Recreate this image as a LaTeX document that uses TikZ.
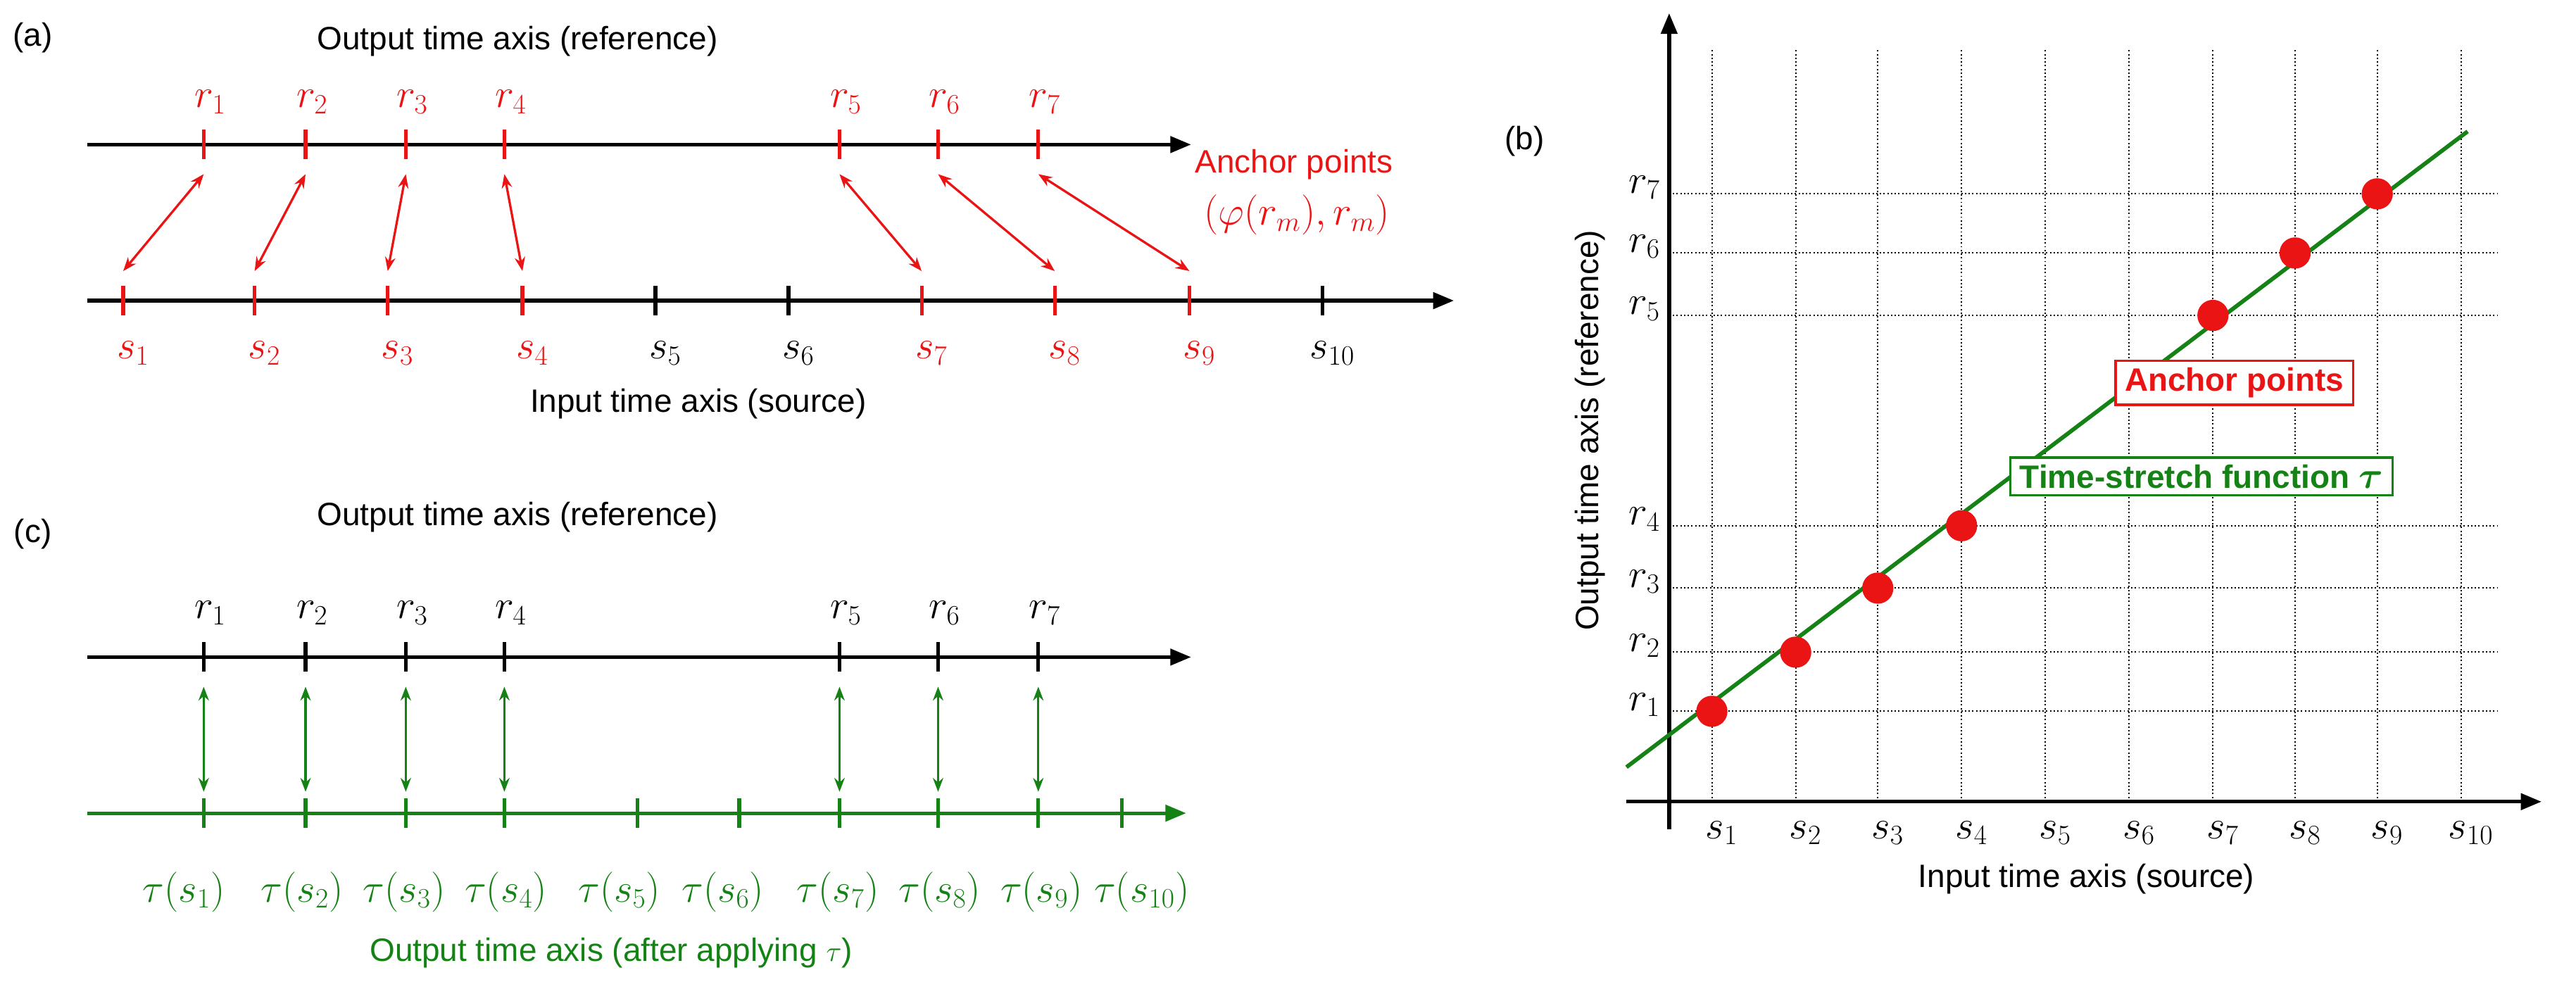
\documentclass[tikz,border=0pt]{standalone}
\usepackage{fontspec}
\setmainfont{Liberation Sans}
\usepackage{amsmath}
\usetikzlibrary{arrows.meta}
\definecolor{gr}{RGB}{20,130,20}
\definecolor{rd}{RGB}{235,20,20}
\newcommand\mym[1]{\scalebox{1.4}{$#1$}}
\begin{document}
\begin{tikzpicture}[x=0.05cm,y=-0.05cm,
 txt/.style={font=\fontsize{28}{32}\selectfont,inner sep=0},
 mth/.style={font=\fontsize{24}{28}\selectfont,inner sep=0},
 axis/.style={line width=3.2pt,-{Triangle[length=18pt,width=14pt]}},
 tk/.style={line width=3.2pt},
 dbl/.style={line width=2pt,{Stealth[length=12pt,width=9pt]}-{Stealth[length=12pt,width=9pt]}},
 grid/.style={dotted,line width=1.2pt}]
\useasboundingbox (0,0) rectangle (1568,605);
% ---------- (a)
\node[txt] (la) at (20,23) {(a)};
\node[txt] (ta) at (315,25) {Output time axis (reference)};
\coordinate (a0) at (53,88); \coordinate (a1) at (725,88);
\draw[axis] (a0) -- (a1);
\coordinate (b0) at (53,183); \coordinate (b1) at (885,183);
\draw[axis] (b0) -- (b1);
\foreach \x [count=\i] in {124,186,247,307,511,571,632}{
  \draw[tk,rd] (\x,79) -- (\x,97);
  \node[mth,text=rd] (r\i) at (\x+4,62) {\mym{r_{\i}}};
  \coordinate (ra\i) at (\x,106);}
\foreach \x/\c [count=\i] in {75/rd,155/rd,236/rd,318/rd,399/black,480/black,561/rd,642/rd,724/rd,805/black}{
  \draw[tk,\c] (\x,174) -- (\x,192);
  \node[mth,text=\c] (s\i) at (\x+6,215) {\mym{s_{\i}}};
  \coordinate (sa\i) at (\x,165);}
\foreach \a/\b in {1/1,2/2,3/3,4/4,5/7,6/8,7/9}
  \draw[dbl,rd] (ra\a) -- (sa\b);
\node[txt,text=rd,anchor=east] (ap) at (848,100) {Anchor points};
\node[mth,text=rd,anchor=east] (apf) at (846,131) {\mym{(\varphi(r_m),r_m)}};
\node[txt] (ia) at (425,246) {Input time axis (source)};
% ---------- (c)
\node[txt] (lc) at (20,325) {(c)};
\node[txt] (tc) at (315,315) {Output time axis (reference)};
\draw[axis] (53,400) -- (725,400);
\draw[axis,gr] (53,495) -- (722,495);
\foreach \x [count=\i] in {124,186,247,307,511,571,632}{
  \draw[tk] (\x,391) -- (\x,409);
  \node[mth] (rc\i) at (\x+4,373) {\mym{r_{\i}}};
  \coordinate (p\i) at (\x,418); \coordinate (q\i) at (\x,482);
  \draw[dbl,gr] (p\i) -- (q\i);}
\foreach \x/\lx [count=\i] in {124/112,186/184,247/246,307/308,388/377,450/440,511/510,571/572,632/634,683/695}{
  \draw[tk,gr] (\x,486) -- (\x,504);
  \node[mth,text=gr] (t\i) at (\lx,543) {\mym{\tau(s_{\i})}};}
\node[txt,text=gr] (oc) at (372,580) {Output time axis (after applying $\tau$)};
% ---------- (b)
\node[txt] (lb) at (928,86) {(b)};
\foreach \x [count=\i] in {1042,1093,1143,1194,1245,1296,1347,1397,1447,1498}{
  \draw[grid] (\x,488) -- (\x,30);
  \node[mth] (sb\i) at (\x+6,507) {\mym{s_{\i}}};}
\foreach \y [count=\i] in {433,397,358,320,192,154,118}{
  \draw[grid] (1016,\y) -- (1520,\y);
  \node[mth] (rb\i) at (1001,\y-4) {\mym{r_{\i}}};}
\draw[axis] (1016,505) -- (1016,8);
\draw[axis] (990,488) -- (1547,488);
\coordinate (g0) at (990,467); \coordinate (g1) at (1502,80);
\draw[gr,line width=3.5pt] (g0) -- (g1);
\foreach \x/\y [count=\i] in {1042/433,1093/397,1143/358,1194/320,1347/192,1397/154,1447/118}
  \node[circle,fill=rd,minimum size=0.95cm,inner sep=0] (d\i) at (\x,\y) {};
\node[txt] (ib) at (1270,535) {Input time axis (source)};
\node[txt,rotate=90] (ob) at (968,262) {Output time axis (reference)};
\node[txt,font=\fontsize{28}{32}\selectfont\bfseries,text=rd,draw=rd,line width=2pt,fill=white,inner xsep=8pt,inner ysep=6pt] (bx1) at (1360,233) {Anchor points};
\node[txt,font=\fontsize{28}{32}\selectfont\bfseries,text=gr,draw=gr,line width=2pt,fill=white,inner xsep=8pt,inner ysep=6pt] (bx2) at (1340,290) {Time-stretch function \scalebox{1.3}{$\boldsymbol{\tau}$}};
\end{tikzpicture}
\end{document}
